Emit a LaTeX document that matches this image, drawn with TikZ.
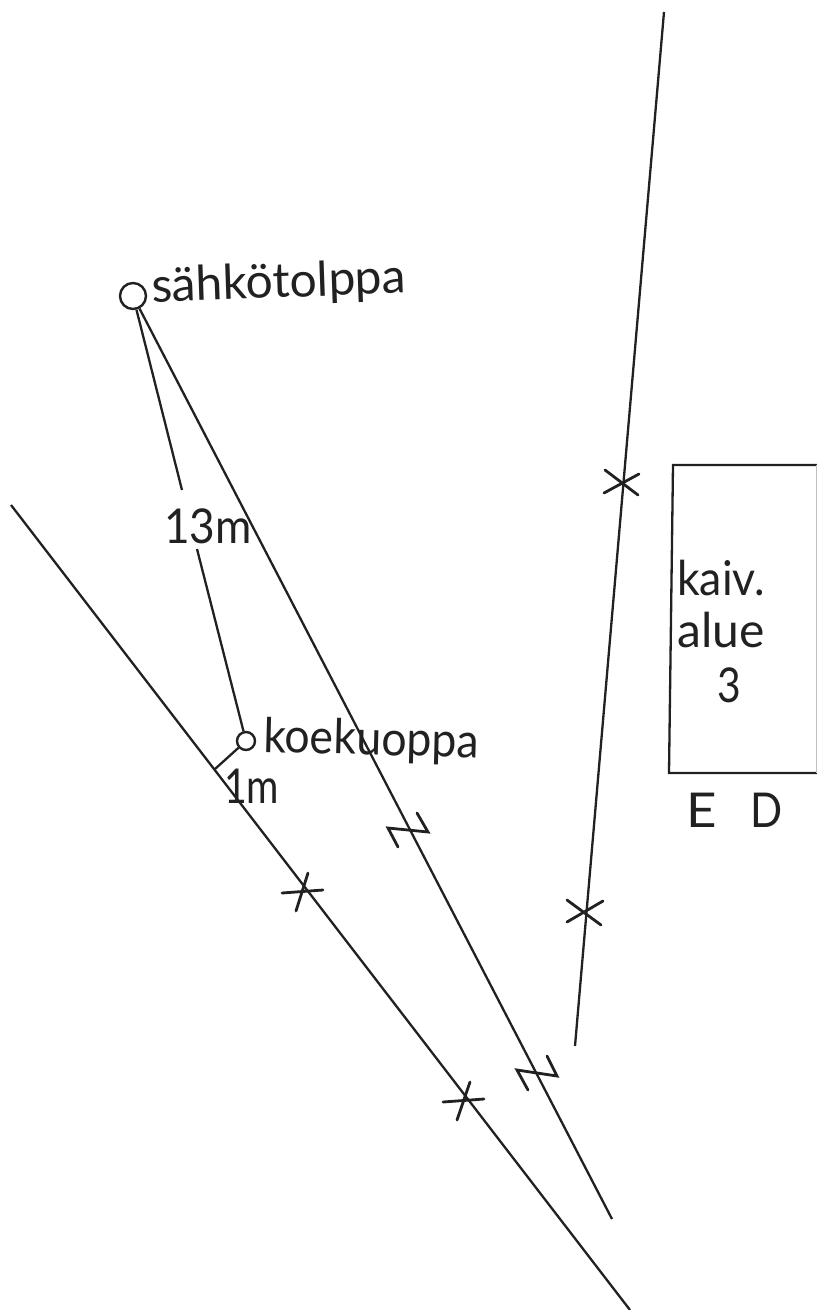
\documentclass[tikz,border=0pt]{standalone}
\usepackage{fontspec}
\setmainfont{Lato}
\definecolor{ink}{gray}{0.13}
\tikzset{
  survey/.style={ink, line width=2.3pt},
  tickmark/.style={ink, line width=2.8pt, line cap=round},
  spot/.style={circle, draw=ink, line width=2.4pt, inner sep=0pt},
  lettering/.style={ink, inner sep=0pt, anchor=base west, font=\fontsize{48}{48}\selectfont},
}
\begin{document}
\begin{tikzpicture}[x=1pt, y=-1pt]
  \useasboundingbox (0, 0) rectangle (817, 1310);
  \node [spot, minimum size=26pt] (pole) at (133, 296) {};
  \node [spot, minimum size=18pt] (pit) at (246, 741) {};
  \node [lettering, rotate=2] (polelabel) at (152, 302) {sähkötolppa};
  \node [lettering, rotate=-1.5, xscale=0.93] (pitlabel) at (263, 752) {koekuoppa};
  \node [lettering, xscale=0.92] (poledist) at (164, 543) {13m};
  \node [lettering, xscale=0.82] (linedist) at (224, 803) {1m};
  \node [lettering, xscale=0.93] (kaiv) at (677, 595) {kaiv.};
  \node [lettering] (alue) at (677, 647) {alue};
  \node [lettering, xscale=0.85] (three) at (717, 702) {3};
  \node [lettering, xscale=1.1] (e) at (686, 827) {E};
  \node [lettering, xscale=0.88] (d) at (750, 827) {D};
  \coordinate (above13) at (182, 490);
  \coordinate (below13) at (197, 549);
  \coordinate (foot) at (215, 769);
  \coordinate (drainend) at (612, 1219);
  \draw [survey] (pole) -- (above13);
  \draw [survey] (below13) -- (pit);
  \draw [survey] (pit) -- (foot);
  \draw [survey] (pole) -- (drainend);
  \draw [survey] (11, 505) -- (630, 1310);
  \draw [survey] (664, 12) -- (575, 1046);
  \draw [survey] (817, 465) -- (673, 465) -- (669, 773) -- (817, 773);
  \draw [gray!50, line width=0.6pt] (816, 465) -- (816, 773);
  \draw [tickmark] (605, 470) -- (638, 495);
  \draw [tickmark] (604, 493) -- (639, 474);
  \draw [tickmark] (567, 900) -- (601, 925);
  \draw [tickmark] (567, 922) -- (603, 901);
  \draw [tickmark] (282, 893) -- (323, 890);
  \draw [tickmark] (308, 873) -- (296, 911);
  \draw [tickmark] (443, 1102) -- (484, 1099);
  \draw [tickmark] (470, 1082) -- (457, 1120);
  \draw [tickmark] (398, 847) -- (388, 828) -- (428, 832) -- (417, 813);
  \draw [tickmark] (528, 1090) -- (517, 1070) -- (557, 1076) -- (547, 1056);
\end{tikzpicture}
\end{document}
